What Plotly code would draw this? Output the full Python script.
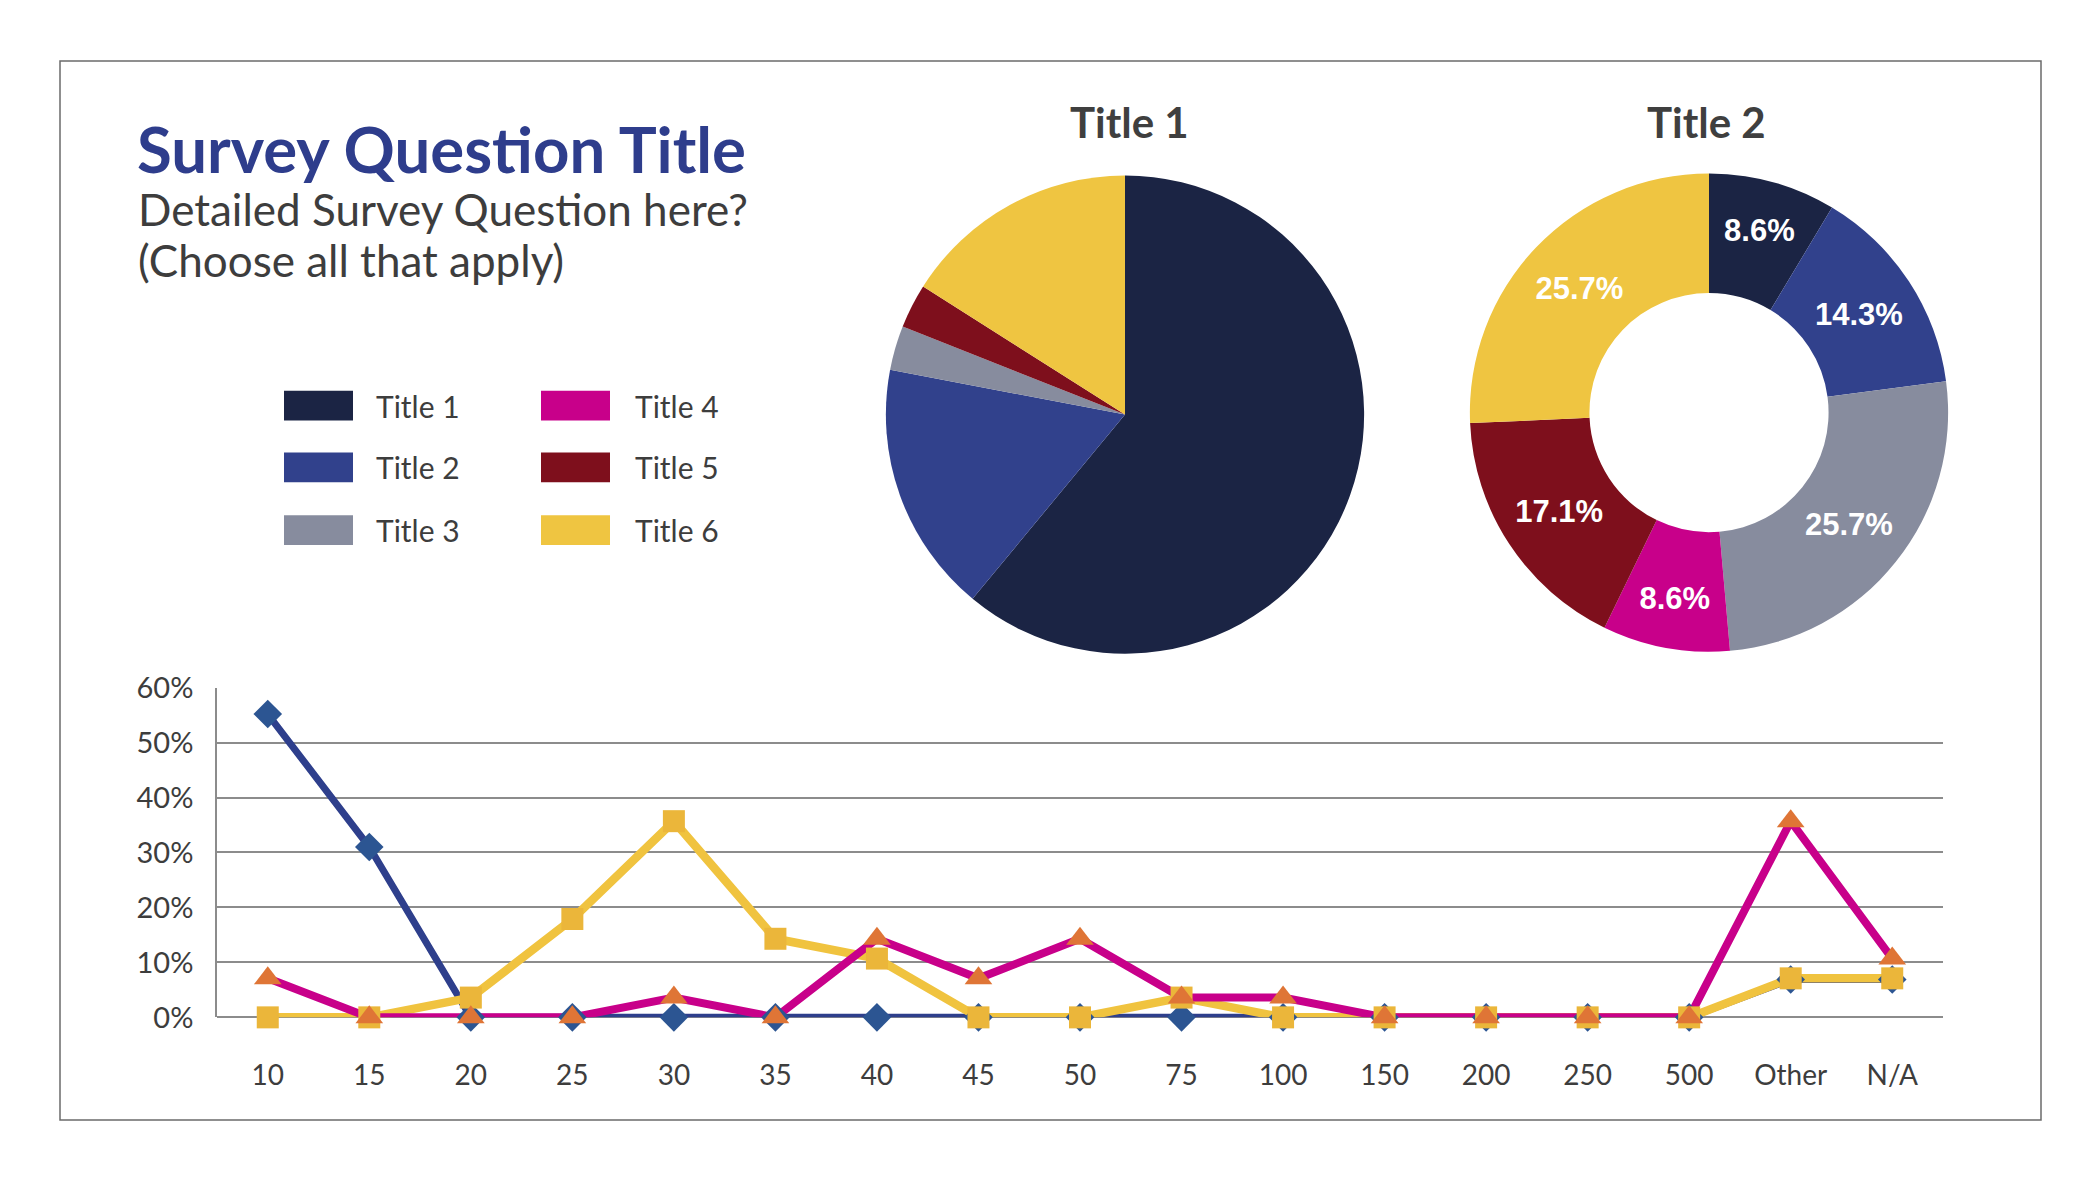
import plotly.graph_objects as go

W = 2100
H = 1184

# pie / donut data
labels = ["Title 1", "Title 2", "Title 3", "Title 4", "Title 5", "Title 6"]
colors = ["#1b2444", "#31418c", "#878c9e", "#c8008a", "#7e0f1c", "#efc541"]
pie1_values = [61, 17, 3, 0, 3, 16]
pie2_values = [8.6, 14.3, 25.7, 8.6, 17.1, 25.7]

# line chart data
categories = ["10", "15", "20", "25", "30", "35", "40", "45", "50", "75",
              "100", "150", "200", "250", "500", "Other", "N/A"]
title1_line = [0.552, 0.310, 0, 0, 0, 0, 0, 0, 0, 0, 0, 0, 0, 0, 0, 0.069, 0.069]
title4_line = [0.071, 0, 0, 0, 0.036, 0, 0.143, 0.071, 0.143, 0.036, 0.036,
               0, 0, 0, 0, 0.357, 0.107]
title6_line = [0, 0, 0.036, 0.179, 0.357, 0.143, 0.107, 0, 0, 0.036, 0,
               0, 0, 0, 0, 0.071, 0.071]


# page pixel -> paper coords (corrected for how the page gets rendered)
def px(x):
    return (x - 8) / W


def py(y):
    return 1 - (y - 24) / 0.974 / H


fig = go.Figure()

fig.add_trace(go.Pie(
    labels=labels, values=pie1_values, sort=False, direction="clockwise",
    rotation=0, marker=dict(colors=colors, line=dict(width=0)),
    textinfo="none", hoverinfo="label+percent", showlegend=False,
    domain=dict(x=[px(885), px(1365)], y=[py(653), py(173)])
))

fig.add_trace(go.Pie(
    labels=labels, values=pie2_values, sort=False, direction="clockwise",
    rotation=0, hole=0.5, marker=dict(colors=colors, line=dict(width=0)),
    texttemplate="%{value:.1f}%", textposition="inside",
    insidetextorientation="horizontal",
    textfont=dict(family="Liberation Sans", size=31, color="white", weight="bold"),
    showlegend=False,
    domain=dict(x=[px(1469), px(1949)], y=[py(651), py(171)])
))

# lines first, markers after (like the original)
line_series = [
    (title1_line, "Title 1", "#2e3f8c", 7, "diamond", "#2c5592", 22),
    (title6_line, "Title 6", "#f0c33f", 8.5, "square", "#ebb63a", 22),
    (title4_line, "Title 4", "#c8008a", 8, "triangle-up", "#df7536", 24),
]
for vals, name, lc, lw, sym, mc, ms in line_series:
    fig.add_trace(go.Scatter(
        x=categories, y=vals, mode="lines", name=name,
        line=dict(color=lc, width=lw), cliponaxis=False, showlegend=False,
        xaxis="x", yaxis="y"
    ))
for vals, name, lc, lw, sym, mc, ms in line_series:
    fig.add_trace(go.Scatter(
        x=categories, y=vals, mode="markers", name=name,
        marker=dict(symbol=sym, color=mc, size=ms, line=dict(width=0)),
        cliponaxis=False, showlegend=False, xaxis="x", yaxis="y"
    ))

shapes = [
    dict(type="rect", xref="paper", yref="paper",
         x0=px(60), x1=px(2041), y0=py(58), y1=py(1121),
         line=dict(color="#6b6b6b", width=1.5), fillcolor="rgba(0,0,0,0)")
]
annotations = [
    dict(text="<b>Survey Question Title</b>", x=px(135), y=py(146),
         xref="paper", yref="paper", xanchor="left", yanchor="middle",
         showarrow=False, font=dict(family="Lato", size=63.5, color="#2e3d8c")),
    dict(text="Detailed Survey Question here?", x=px(136), y=py(207),
         xref="paper", yref="paper", xanchor="left", yanchor="middle",
         showarrow=False, font=dict(family="Lato", size=44, color="#3d3d3d")),
    dict(text="(Choose all that apply)", x=px(136), y=py(258),
         xref="paper", yref="paper", xanchor="left", yanchor="middle",
         showarrow=False, font=dict(family="Lato", size=44, color="#3d3d3d")),
    dict(text="<b>Title 1</b>", x=px(1129), y=py(119),
         xref="paper", yref="paper", xanchor="center", yanchor="middle",
         showarrow=False, font=dict(family="Lato", size=42, color="#3f3f3f")),
    dict(text="<b>Title 2</b>", x=px(1706), y=py(119),
         xref="paper", yref="paper", xanchor="center", yanchor="middle",
         showarrow=False, font=dict(family="Lato", size=42, color="#3f3f3f")),
]

# custom legend, two columns of three
col_x = [284, 541]
row_y = [404, 466, 529]
for i, (lab, col) in enumerate(zip(labels, colors)):
    cx = col_x[i // 3]
    cy = row_y[i % 3]
    shapes.append(dict(type="rect", xref="paper", yref="paper",
                       x0=px(cx), x1=px(cx + 69), y0=py(cy - 15), y1=py(cy + 15),
                       line=dict(width=0), fillcolor=col))
    annotations.append(dict(text=lab, x=px(cx + 90 + 2 * (i // 3)), y=py(cy),
                            xref="paper", yref="paper", xanchor="left",
                            yanchor="middle", showarrow=False,
                            font=dict(family="Lato", size=30, color="#3d3d3d")))

fig.update_layout(
    width=W, height=H, autosize=False,
    margin=dict(l=0, r=0, t=0, b=0),
    paper_bgcolor="white", plot_bgcolor="white",
    font=dict(family="Lato", color="#3d3d3d"),
    shapes=shapes, annotations=annotations,
    xaxis=dict(type="category", domain=[px(217), px(1943)], range=[-0.5, 16.5],
               showgrid=False, zeroline=False, showline=False, ticks="",
               ticklabelstandoff=39, tickfont=dict(family="Lato", size=28, color="#3d3d3d")),
    yaxis=dict(domain=[py(1018), py(687)], range=[0, 0.6001], dtick=0.1,
               tickformat=".0%", showgrid=True, gridcolor="#8c8c8c", gridwidth=1.5,
               zeroline=True, zerolinecolor="#8c8c8c", zerolinewidth=1.5,
               showline=True, linecolor="#8c8c8c", linewidth=1.5, ticks="",
               ticklabelstandoff=16, tickfont=dict(family="Lato", size=29, color="#3d3d3d")),
)

fig.write_html("out.html")
